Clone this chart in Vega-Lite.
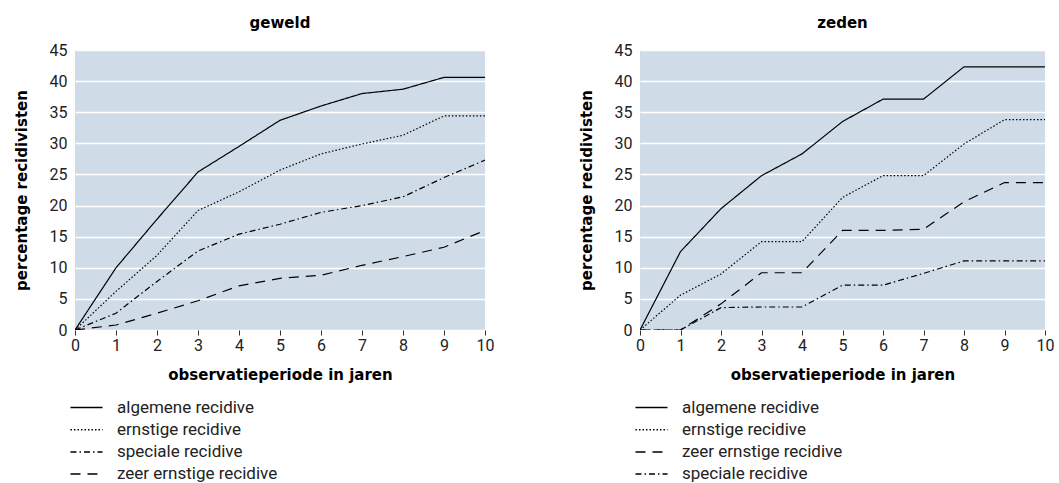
{
  "$schema": "https://vega.github.io/schema/vega-lite/v6.json",
  "autosize": {"type": "pad"},
  "padding": {"left": 14, "top": 16, "right": 5, "bottom": 2},
  "background": "white",
  "bounds": "flush",
  "spacing": 155,
  "datasets": {
    "rows": [
      {"panel": "geweld", "jaar": 0, "type": "algemene recidive", "pct": 0},
      {"panel": "geweld", "jaar": 1, "type": "algemene recidive", "pct": 10},
      {"panel": "geweld", "jaar": 2, "type": "algemene recidive", "pct": 17.8},
      {"panel": "geweld", "jaar": 3, "type": "algemene recidive", "pct": 25.4},
      {"panel": "geweld", "jaar": 4, "type": "algemene recidive", "pct": 29.5},
      {"panel": "geweld", "jaar": 5, "type": "algemene recidive", "pct": 33.7},
      {"panel": "geweld", "jaar": 6, "type": "algemene recidive", "pct": 36},
      {"panel": "geweld", "jaar": 7, "type": "algemene recidive", "pct": 38},
      {"panel": "geweld", "jaar": 8, "type": "algemene recidive", "pct": 38.7},
      {"panel": "geweld", "jaar": 9, "type": "algemene recidive", "pct": 40.6},
      {"panel": "geweld", "jaar": 10, "type": "algemene recidive", "pct": 40.6},
      {"panel": "geweld", "jaar": 0, "type": "ernstige recidive", "pct": 0},
      {"panel": "geweld", "jaar": 1, "type": "ernstige recidive", "pct": 6.2},
      {"panel": "geweld", "jaar": 2, "type": "ernstige recidive", "pct": 12},
      {"panel": "geweld", "jaar": 3, "type": "ernstige recidive", "pct": 19.2},
      {"panel": "geweld", "jaar": 4, "type": "ernstige recidive", "pct": 22.2},
      {"panel": "geweld", "jaar": 5, "type": "ernstige recidive", "pct": 25.7},
      {"panel": "geweld", "jaar": 6, "type": "ernstige recidive", "pct": 28.3},
      {"panel": "geweld", "jaar": 7, "type": "ernstige recidive", "pct": 29.9},
      {"panel": "geweld", "jaar": 8, "type": "ernstige recidive", "pct": 31.3},
      {"panel": "geweld", "jaar": 9, "type": "ernstige recidive", "pct": 34.4},
      {"panel": "geweld", "jaar": 10, "type": "ernstige recidive", "pct": 34.4},
      {"panel": "geweld", "jaar": 0, "type": "speciale recidive", "pct": 0},
      {"panel": "geweld", "jaar": 1, "type": "speciale recidive", "pct": 2.7},
      {"panel": "geweld", "jaar": 2, "type": "speciale recidive", "pct": 7.8},
      {"panel": "geweld", "jaar": 3, "type": "speciale recidive", "pct": 12.7},
      {"panel": "geweld", "jaar": 4, "type": "speciale recidive", "pct": 15.4},
      {"panel": "geweld", "jaar": 5, "type": "speciale recidive", "pct": 17},
      {"panel": "geweld", "jaar": 6, "type": "speciale recidive", "pct": 18.9},
      {"panel": "geweld", "jaar": 7, "type": "speciale recidive", "pct": 20},
      {"panel": "geweld", "jaar": 8, "type": "speciale recidive", "pct": 21.4},
      {"panel": "geweld", "jaar": 9, "type": "speciale recidive", "pct": 24.5},
      {"panel": "geweld", "jaar": 10, "type": "speciale recidive", "pct": 27.3},
      {"panel": "geweld", "jaar": 0, "type": "zeer ernstige recidive", "pct": 0},
      {"panel": "geweld", "jaar": 1, "type": "zeer ernstige recidive", "pct": 0.8},
      {"panel": "geweld", "jaar": 2, "type": "zeer ernstige recidive", "pct": 2.7},
      {"panel": "geweld", "jaar": 3, "type": "zeer ernstige recidive", "pct": 4.7},
      {"panel": "geweld", "jaar": 4, "type": "zeer ernstige recidive", "pct": 7.1},
      {"panel": "geweld", "jaar": 5, "type": "zeer ernstige recidive", "pct": 8.3},
      {"panel": "geweld", "jaar": 6, "type": "zeer ernstige recidive", "pct": 8.8},
      {"panel": "geweld", "jaar": 7, "type": "zeer ernstige recidive", "pct": 10.4},
      {"panel": "geweld", "jaar": 8, "type": "zeer ernstige recidive", "pct": 11.8},
      {"panel": "geweld", "jaar": 9, "type": "zeer ernstige recidive", "pct": 13.3},
      {"panel": "geweld", "jaar": 10, "type": "zeer ernstige recidive", "pct": 16},
      {"panel": "zeden", "jaar": 0, "type": "algemene recidive", "pct": 0},
      {"panel": "zeden", "jaar": 1, "type": "algemene recidive", "pct": 12.6},
      {"panel": "zeden", "jaar": 2, "type": "algemene recidive", "pct": 19.5},
      {"panel": "zeden", "jaar": 3, "type": "algemene recidive", "pct": 24.8},
      {"panel": "zeden", "jaar": 4, "type": "algemene recidive", "pct": 28.3},
      {"panel": "zeden", "jaar": 5, "type": "algemene recidive", "pct": 33.5},
      {"panel": "zeden", "jaar": 6, "type": "algemene recidive", "pct": 37.1},
      {"panel": "zeden", "jaar": 7, "type": "algemene recidive", "pct": 37.1},
      {"panel": "zeden", "jaar": 8, "type": "algemene recidive", "pct": 42.3},
      {"panel": "zeden", "jaar": 9, "type": "algemene recidive", "pct": 42.3},
      {"panel": "zeden", "jaar": 10, "type": "algemene recidive", "pct": 42.3},
      {"panel": "zeden", "jaar": 0, "type": "ernstige recidive", "pct": 0},
      {"panel": "zeden", "jaar": 1, "type": "ernstige recidive", "pct": 5.6},
      {"panel": "zeden", "jaar": 2, "type": "ernstige recidive", "pct": 9},
      {"panel": "zeden", "jaar": 3, "type": "ernstige recidive", "pct": 14.2},
      {"panel": "zeden", "jaar": 4, "type": "ernstige recidive", "pct": 14.2},
      {"panel": "zeden", "jaar": 5, "type": "ernstige recidive", "pct": 21.3},
      {"panel": "zeden", "jaar": 6, "type": "ernstige recidive", "pct": 24.8},
      {"panel": "zeden", "jaar": 7, "type": "ernstige recidive", "pct": 24.8},
      {"panel": "zeden", "jaar": 8, "type": "ernstige recidive", "pct": 29.9},
      {"panel": "zeden", "jaar": 9, "type": "ernstige recidive", "pct": 33.8},
      {"panel": "zeden", "jaar": 10, "type": "ernstige recidive", "pct": 33.8},
      {"panel": "zeden", "jaar": 0, "type": "zeer ernstige recidive", "pct": 0},
      {"panel": "zeden", "jaar": 1, "type": "zeer ernstige recidive", "pct": 0},
      {"panel": "zeden", "jaar": 2, "type": "zeer ernstige recidive", "pct": 4.2},
      {"panel": "zeden", "jaar": 3, "type": "zeer ernstige recidive", "pct": 9.2},
      {"panel": "zeden", "jaar": 4, "type": "zeer ernstige recidive", "pct": 9.2},
      {"panel": "zeden", "jaar": 5, "type": "zeer ernstige recidive", "pct": 16},
      {"panel": "zeden", "jaar": 6, "type": "zeer ernstige recidive", "pct": 16},
      {"panel": "zeden", "jaar": 7, "type": "zeer ernstige recidive", "pct": 16.2},
      {"panel": "zeden", "jaar": 8, "type": "zeer ernstige recidive", "pct": 20.6},
      {"panel": "zeden", "jaar": 9, "type": "zeer ernstige recidive", "pct": 23.7},
      {"panel": "zeden", "jaar": 10, "type": "zeer ernstige recidive", "pct": 23.7},
      {"panel": "zeden", "jaar": 0, "type": "speciale recidive", "pct": 0},
      {"panel": "zeden", "jaar": 1, "type": "speciale recidive", "pct": 0},
      {"panel": "zeden", "jaar": 2, "type": "speciale recidive", "pct": 3.6},
      {"panel": "zeden", "jaar": 3, "type": "speciale recidive", "pct": 3.7},
      {"panel": "zeden", "jaar": 4, "type": "speciale recidive", "pct": 3.7},
      {"panel": "zeden", "jaar": 5, "type": "speciale recidive", "pct": 7.2},
      {"panel": "zeden", "jaar": 6, "type": "speciale recidive", "pct": 7.2},
      {"panel": "zeden", "jaar": 7, "type": "speciale recidive", "pct": 9.1},
      {"panel": "zeden", "jaar": 8, "type": "speciale recidive", "pct": 11.1},
      {"panel": "zeden", "jaar": 9, "type": "speciale recidive", "pct": 11.1},
      {"panel": "zeden", "jaar": 10, "type": "speciale recidive", "pct": 11.1}
    ]
  },
  "resolve": {"scale": {"strokeDash": "independent"}, "legend": {"strokeDash": "independent"}},
  "hconcat": [
    {
      "title": "geweld",
      "width": 410,
      "height": 280,
      "data": {"name": "rows"},
      "transform": [{"filter": "datum.panel === 'geweld'"}],
      "mark": {"type": "line", "color": "black", "strokeWidth": 1.2, "clip": true},
      "encoding": {
        "x": {"field": "jaar", "type": "quantitative", "title": "observatieperiode in jaren",
              "scale": {"domain": [0, 10], "nice": false},
              "axis": {"values": [0,1,2,3,4,5,6,7,8,9,10]}},
        "y": {"field": "pct", "type": "quantitative", "title": "percentage recidivisten",
              "scale": {"domain": [0, 45], "nice": false},
              "axis": {"values": [0,5,10,15,20,25,30,35,40,45]}},
        "strokeDash": {"field": "type", "type": "nominal",
          "scale": {"domain": ["algemene recidive", "ernstige recidive", "speciale recidive", "zeer ernstige recidive"],
                    "range": [[1, 0], [1.5, 2], [6, 3, 1.5, 3], [10, 7]]},
          "legend": {"orient": "none", "legendX": 3, "legendY": 349}}
      }
    },
    {
      "title": "zeden",
      "width": 405,
      "height": 280,
      "data": {"name": "rows"},
      "transform": [{"filter": "datum.panel === 'zeden'"}],
      "mark": {"type": "line", "color": "black", "strokeWidth": 1.2, "clip": true},
      "encoding": {
        "x": {"field": "jaar", "type": "quantitative", "title": "observatieperiode in jaren",
              "scale": {"domain": [0, 10], "nice": false},
              "axis": {"values": [0,1,2,3,4,5,6,7,8,9,10]}},
        "y": {"field": "pct", "type": "quantitative", "title": "percentage recidivisten",
              "scale": {"domain": [0, 45], "nice": false},
              "axis": {"values": [0,5,10,15,20,25,30,35,40,45]}},
        "strokeDash": {"field": "type", "type": "nominal",
          "scale": {"domain": ["algemene recidive", "ernstige recidive", "zeer ernstige recidive", "speciale recidive"],
                    "range": [[1, 0], [1.5, 2], [10, 7], [6, 3, 1.5, 3]]},
          "legend": {"orient": "none", "legendX": 3, "legendY": 349}}
      }
    }
  ],
  "config": {
    "font": "Roboto",
    "view": {"fill": "#cfdce7", "stroke": null},
    "title": {"font": "DejaVu Sans", "fontSize": 15, "fontWeight": "bold", "color": "black", "anchor": "middle", "frame": "group", "offset": 11},
    "axis": {
      "labelFont": "Roboto", "labelFontSize": 16, "labelColor": "#222",
      "titleFont": "DejaVu Sans", "titleFontSize": 15, "titleFontWeight": "bold", "titleColor": "black",
      "domain": false
    },
    "axisX": {"grid": false, "ticks": true, "tickColor": "#333", "tickSize": 5, "labelPadding": 2, "titlePadding": 14, "labelFlush": false},
    "axisY": {"grid": true, "gridColor": "white", "gridWidth": 1.5, "ticks": false, "labelPadding": 8, "titlePadding": 20},
    "legend": {
      "title": null, "padding": 0,
      "labelFont": "Roboto", "labelFontSize": 17, "labelColor": "#222", "labelOffset": 22, "labelLimit": 400,
      "symbolType": "M-3,0H3", "symbolSize": 114, "symbolStrokeColor": "black", "symbolStrokeWidth": 1.5,
      "symbolFillColor": "transparent", "rowPadding": 4.2
    }
  }
}
